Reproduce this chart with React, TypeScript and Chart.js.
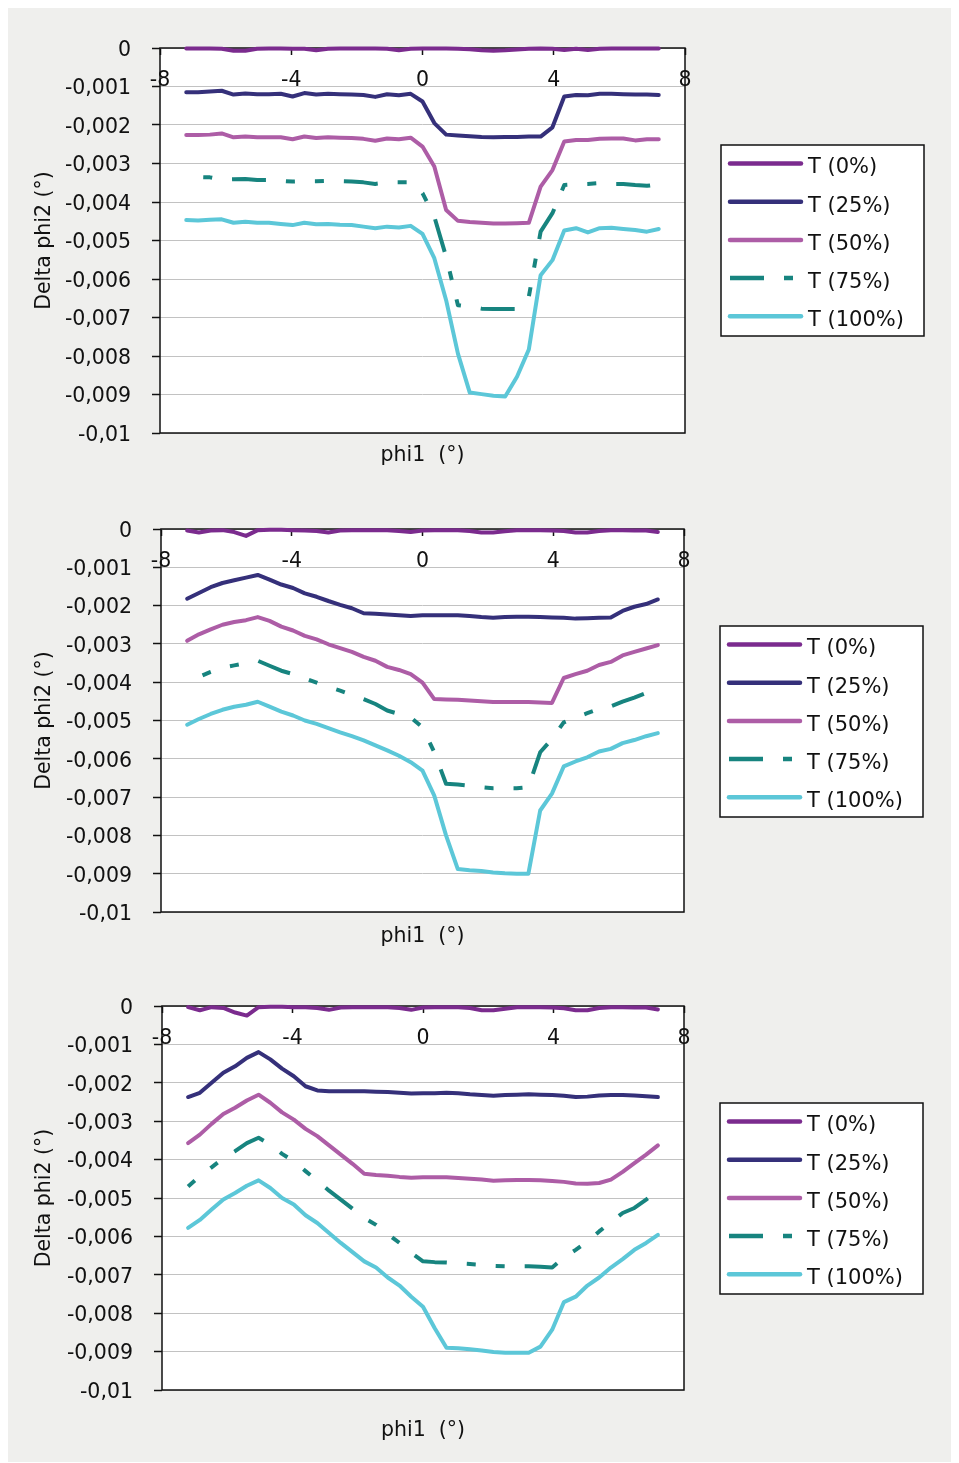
import React, { useEffect, useRef } from 'react';
import { Chart, registerables } from 'chart.js';

Chart.register(...registerables);

const FONT = '"DejaVu Sans", "Liberation Sans", sans-serif';

// ---------- data ----------
const PHI1 = [
  -7.2, -6.84, -6.48, -6.12, -5.76, -5.4, -5.04, -4.68, -4.32, -3.96,
  -3.6, -3.24, -2.88, -2.52, -2.16, -1.8, -1.44, -1.08, -0.72, -0.36,
  0, 0.36, 0.72, 1.08, 1.44, 1.8, 2.16, 2.52, 2.88, 3.24,
  3.6, 3.96, 4.32, 4.68, 5.04, 5.4, 5.76, 6.12, 6.48, 6.84, 7.2,
];

const X_TICKS = [-8, -4, 0, 4, 8];
const X_TICK_LABELS = ['-8', '-4', '0', '4', '8'];
const Y_TICKS = [0, -0.001, -0.002, -0.003, -0.004, -0.005, -0.006, -0.007, -0.008, -0.009, -0.01];
const Y_TICK_LABELS = ['0', '-0,001', '-0,002', '-0,003', '-0,004', '-0,005', '-0,006', '-0,007', '-0,008', '-0,009', '-0,01'];

const SERIES_LABELS = ['T (0%)', 'T (25%)', 'T (50%)', 'T (75%)', 'T (100%)'];
const X_TITLE = 'phi1  (°)';
const Y_TITLE = 'Delta phi2 (°)';

// chart 1
const C1_T0 = [-0.00001, -0.00001, -0.00001, -0.00002, -0.00007, -0.00007, -0.00002, -0.00001, -0.00001, -0.00002, -0.00002, -0.00006, -0.00002, -0.00001, -0.00001, -0.00001, -0.00001, -0.00002, -0.00006, -0.00002, -0.00001, -0.00001, -0.00001, -0.00002, -0.00003, -0.00006, -0.00007, -0.00006, -0.00004, -0.00002, -0.00001, -0.00002, -0.00005, -0.00002, -0.00005, -0.00002, -0.00001, -0.00001, -0.00001, -0.00001, -0.00001];
const C1_T25 = [-0.00115, -0.00115, -0.00113, -0.00111, -0.00121, -0.00118, -0.0012, -0.0012, -0.00119, -0.00126, -0.00117, -0.00121, -0.00119, -0.0012, -0.00121, -0.00122, -0.00127, -0.0012, -0.00123, -0.00119, -0.00139, -0.00195, -0.00225, -0.00227, -0.00229, -0.00231, -0.00232, -0.00231, -0.00231, -0.0023, -0.0023, -0.00206, -0.00126, -0.00122, -0.00123, -0.00119, -0.00119, -0.0012, -0.00121, -0.00121, -0.00122];
const C1_T50 = [-0.00226, -0.00226, -0.00225, -0.00222, -0.00232, -0.0023, -0.00232, -0.00232, -0.00232, -0.00237, -0.0023, -0.00234, -0.00232, -0.00233, -0.00234, -0.00236, -0.00241, -0.00235, -0.00237, -0.00233, -0.00256, -0.00308, -0.00421, -0.00449, -0.00452, -0.00454, -0.00456, -0.00456, -0.00455, -0.00454, -0.0036, -0.00317, -0.00243, -0.00239, -0.00239, -0.00236, -0.00235, -0.00235, -0.0024, -0.00237, -0.00237];
const C1_T75 = [-0.00335, -0.00335, -0.00336, -0.00342, -0.00341, -0.0034, -0.00343, -0.00343, -0.00345, -0.00347, -0.00346, -0.00346, -0.00345, -0.00346, -0.00347, -0.00349, -0.00353, -0.00349, -0.00349, -0.00349, -0.00377, -0.00438, -0.00542, -0.00668, -0.00672, -0.00677, -0.00678, -0.00678, -0.00678, -0.00646, -0.00477, -0.00429, -0.00356, -0.00354, -0.00353, -0.00351, -0.00353, -0.00353, -0.00356, -0.00358, -0.00354];
const C1_T100 = [-0.00447, -0.00448, -0.00446, -0.00445, -0.00454, -0.00451, -0.00454, -0.00454, -0.00457, -0.0046, -0.00454, -0.00458, -0.00457, -0.00459, -0.0046, -0.00464, -0.00468, -0.00464, -0.00466, -0.00462, -0.00483, -0.00546, -0.00655, -0.00794, -0.00895, -0.00899, -0.00903, -0.00905, -0.00854, -0.00783, -0.0059, -0.00551, -0.00474, -0.00468, -0.00479, -0.00468, -0.00467, -0.0047, -0.00473, -0.00477, -0.0047];

// chart 2
const C2_T0 = [-0.00004, -0.00009, -0.00004, -0.00003, -0.00008, -0.00018, -0.00003, -0.00002, -0.00002, -0.00003, -0.00004, -0.00005, -0.00009, -0.00004, -0.00003, -0.00003, -0.00003, -0.00003, -0.00005, -0.00008, -0.00004, -0.00003, -0.00003, -0.00003, -0.00005, -0.00009, -0.00009, -0.00006, -0.00003, -0.00003, -0.00003, -0.00004, -0.00005, -0.00009, -0.00009, -0.00005, -0.00003, -0.00003, -0.00004, -0.00004, -0.00008];
const C2_T25 = [-0.00182, -0.00167, -0.00152, -0.00141, -0.00134, -0.00127, -0.0012, -0.00132, -0.00145, -0.00154, -0.00168, -0.00177, -0.00188, -0.00198, -0.00207, -0.0022, -0.00221, -0.00223, -0.00225, -0.00227, -0.00225, -0.00225, -0.00225, -0.00225, -0.00227, -0.0023, -0.00232, -0.0023, -0.00229, -0.00229, -0.0023, -0.00231, -0.00232, -0.00234, -0.00233, -0.00232, -0.00231, -0.00214, -0.00203, -0.00196, -0.00184];
const C2_T50 = [-0.00292, -0.00275, -0.00262, -0.0025, -0.00243, -0.00238, -0.0023, -0.0024, -0.00255, -0.00265, -0.00279, -0.00288, -0.00301, -0.00311, -0.00321, -0.00334, -0.00344, -0.0036, -0.00368, -0.00379, -0.00401, -0.00444, -0.00445, -0.00446, -0.00448, -0.0045, -0.00452, -0.00452, -0.00452, -0.00452, -0.00453, -0.00454, -0.00389, -0.00379, -0.0037, -0.00355, -0.00347, -0.0033, -0.00321, -0.00312, -0.00303];
const C2_T75 = [-0.00401, -0.00386, -0.00373, -0.00362, -0.00356, -0.0035, -0.00344, -0.00357, -0.0037, -0.00379, -0.0039, -0.00401, -0.00412, -0.00422, -0.00433, -0.00444, -0.00457, -0.00474, -0.00483, -0.00492, -0.00518, -0.00583, -0.00665, -0.00667, -0.0067, -0.00674, -0.00677, -0.00677, -0.00677, -0.00674, -0.00583, -0.00548, -0.00505, -0.00492, -0.00481, -0.0047, -0.00463, -0.00451, -0.0044, -0.00428, -0.00418];
const C2_T100 = [-0.00511, -0.00496, -0.00483, -0.00472, -0.00464, -0.00459, -0.00451, -0.00464, -0.00477, -0.00487, -0.005, -0.00509, -0.0052, -0.00531, -0.00541, -0.00552, -0.00565, -0.00578, -0.00592, -0.00609, -0.00631, -0.00696, -0.008, -0.00888, -0.00891, -0.00893, -0.00897, -0.00899, -0.009, -0.009, -0.00735, -0.00691, -0.0062, -0.00607, -0.00596, -0.00581, -0.00574, -0.00559, -0.00551, -0.00541, -0.00533];

// chart 3
const C3_T0 = [-0.00003, -0.00011, -0.00003, -0.00005, -0.00017, -0.00025, -0.00003, -0.00002, -0.00002, -0.00003, -0.00003, -0.00005, -0.0001, -0.00004, -0.00003, -0.00003, -0.00003, -0.00003, -0.00005, -0.0001, -0.00004, -0.00003, -0.00003, -0.00003, -0.00005, -0.00011, -0.00011, -0.00007, -0.00003, -0.00003, -0.00003, -0.00004, -0.00006, -0.00011, -0.00011, -0.00005, -0.00003, -0.00003, -0.00004, -0.00004, -0.00009];
const C3_T25 = [-0.00237, -0.00226, -0.002, -0.00174, -0.00157, -0.00135, -0.0012, -0.00139, -0.00163, -0.00183, -0.00209, -0.0022, -0.00222, -0.00222, -0.00222, -0.00222, -0.00223, -0.00224, -0.00226, -0.00228, -0.00227, -0.00227, -0.00226, -0.00227, -0.0023, -0.00232, -0.00234, -0.00232, -0.00231, -0.0023, -0.00231, -0.00232, -0.00234, -0.00237, -0.00236, -0.00233, -0.00232, -0.00232, -0.00233, -0.00235, -0.00237];
const C3_T50 = [-0.00357, -0.00335, -0.00307, -0.00281, -0.00265, -0.00246, -0.00231, -0.00252, -0.00277, -0.00296, -0.0032, -0.00339, -0.00363, -0.00387, -0.00411, -0.00437, -0.0044, -0.00442, -0.00445, -0.00447, -0.00446, -0.00446, -0.00446, -0.00448, -0.0045, -0.00452, -0.00455, -0.00454, -0.00453, -0.00453, -0.00454, -0.00456, -0.00458, -0.00462, -0.00463, -0.00461, -0.00452, -0.00432, -0.00409, -0.00387, -0.00363];
const C3_T75 = [-0.0047, -0.00443, -0.0042, -0.00396, -0.00378, -0.00357, -0.00343, -0.00361, -0.00385, -0.00404, -0.0043, -0.00455, -0.00481, -0.00504, -0.00528, -0.00552, -0.0057, -0.00594, -0.00617, -0.00643, -0.00665, -0.00667, -0.00668, -0.0067, -0.00672, -0.00674, -0.00677, -0.00678, -0.00678, -0.00678, -0.00679, -0.00681, -0.00655, -0.00635, -0.00613, -0.00587, -0.00563, -0.00539, -0.00526, -0.00504, -0.00483];
const C3_T100 = [-0.00578, -0.00557, -0.0053, -0.00504, -0.00487, -0.00468, -0.00454, -0.00474, -0.005, -0.00517, -0.00545, -0.00565, -0.00591, -0.00617, -0.00641, -0.00665, -0.00681, -0.00707, -0.00728, -0.00757, -0.00783, -0.00839, -0.0089, -0.00891, -0.00894, -0.00897, -0.00901, -0.00903, -0.00903, -0.00903, -0.00887, -0.00843, -0.00771, -0.00757, -0.00728, -0.00707, -0.00681, -0.00659, -0.00635, -0.00617, -0.00596];

const CHART_SERIES = [
  [C1_T0, C1_T25, C1_T50, C1_T75, C1_T100],
  [C2_T0, C2_T25, C2_T50, C2_T75, C2_T100],
  [C3_T0, C3_T25, C3_T50, C3_T75, C3_T100],
];

// ---------- styles ----------
const COLORS = ['#7B2B8E', '#35307A', '#AD5DA6', '#17847F', '#5CC7D8'];
const DASH = [34, 20, 9, 20, 9, 20];
const PANEL_BG = '#efefed';
const GRID = '#c2c2c2';
const CANVAS_W = 943;

const LAYOUTS = [
  { height: 480, top: 41, left: 152, right: 677, bottom: 426, titlePadBottom: 19, legendTop: 138, dashOffset: 66 },
  { height: 478, top: 42, left: 153, right: 676, bottom: 425, titlePadBottom: 16, legendTop: 139, dashOffset: 37 },
  { height: 497, top: 41, left: 154, right: 676, bottom: 425, titlePadBottom: 19, legendTop: 138, dashOffset: 54 },
];

function makeFramePlugin() {
  return {
    id: 'frame',
    beforeDraw(chart: any) {
      const { ctx, chartArea: a } = chart;
      ctx.save();
      ctx.fillStyle = '#ffffff';
      ctx.fillRect(a.left, a.top, a.right - a.left, a.bottom - a.top);
      ctx.restore();
    },
    beforeDatasetsDraw(chart: any) {
      const { ctx, chartArea: a } = chart;
      ctx.save();
      ctx.strokeStyle = '#111111';
      ctx.lineWidth = 1.5;
      ctx.strokeRect(a.left, a.top, a.right - a.left, a.bottom - a.top);
      ctx.restore();
    },
  };
}

function makeLegendPlugin(legendTop: number) {
  return {
    id: 'boxLegend',
    afterDraw(chart: any) {
      const { ctx, chartArea } = chart;
      const bx = chartArea.right + 36;
      const by = legendTop;
      const bw = 203;
      const bh = 191;
      ctx.save();
      ctx.fillStyle = '#ffffff';
      ctx.fillRect(bx, by, bw, bh);
      ctx.strokeStyle = '#111111';
      ctx.lineWidth = 1.5;
      ctx.strokeRect(bx, by, bw, bh);
      chart.data.datasets.forEach((ds: any, i: number) => {
        const ly = by + 18.5 + i * 38.2;
        const dashed = ds.borderDash && ds.borderDash.length > 0;
        ctx.beginPath();
        ctx.setLineDash(dashed ? ds.borderDash : []);
        ctx.lineDashOffset = 0;
        ctx.lineCap = dashed ? 'butt' : 'round';
        ctx.strokeStyle = ds.borderColor;
        ctx.lineWidth = 4.5;
        ctx.moveTo(bx + 9, ly);
        ctx.lineTo(bx + (dashed ? 82 : 80), ly);
        ctx.stroke();
        ctx.setLineDash([]);
        ctx.fillStyle = '#111111';
        ctx.font = `21px ${FONT}`;
        ctx.textAlign = 'left';
        ctx.textBaseline = 'middle';
        ctx.fillText(ds.label, bx + 87, ly + 4.5);
      });
      ctx.restore();
    },
  };
}

function PhiChart({ index }: { index: number }) {
  const ref = useRef<HTMLCanvasElement>(null);
  const L = LAYOUTS[index];
  useEffect(() => {
    if (!ref.current) return;
    const series = CHART_SERIES[index];
    const datasets = series.map((vals, i) => ({
      label: SERIES_LABELS[i],
      data: PHI1.map((x, k) => ({ x, y: vals[k] })),
      borderColor: COLORS[i],
      backgroundColor: COLORS[i],
      borderWidth: 4,
      borderDash: i === 3 ? DASH : [],
      borderDashOffset: i === 3 ? L.dashOffset : 0,
      borderCapStyle: i === 3 ? 'butt' : 'round',
      borderJoinStyle: 'round',
      pointRadius: 0,
      pointHoverRadius: 0,
      tension: 0,
      fill: false,
      clip: 4,
    }));
    const chart = new Chart(ref.current, {
      type: 'line',
      data: { datasets } as any,
      options: {
        animation: false,
        responsive: false,
        devicePixelRatio: 1,
        events: [],
        layout: { padding: { top: L.top, right: CANVAS_W - L.right, bottom: 0, left: 0 } },
        plugins: { legend: { display: false }, tooltip: { enabled: false } },
        scales: {
          x: {
            type: 'linear',
            position: { y: 0 } as any,
            min: -8,
            max: 8,
            afterBuildTicks: (s: any) => { s.ticks = X_TICKS.map((v) => ({ value: v })); },
            ticks: {
              autoSkip: false,
              maxRotation: 0,
              padding: 13,
              color: '#111111',
              font: { family: FONT, size: 20.5 },
              callback: (v: any) => X_TICK_LABELS[X_TICKS.indexOf(Number(v))] ?? '',
            },
            grid: { drawOnChartArea: false, drawTicks: true, tickLength: 7, tickColor: '#111111', tickWidth: 1.5 },
            border: { display: false },
          },
          x2: {
            type: 'linear',
            position: 'bottom',
            min: -8,
            max: 8,
            ticks: { display: false },
            grid: { display: false, drawTicks: false },
            border: { display: false },
            title: {
              display: true,
              text: X_TITLE,
              color: '#111111',
              font: { family: FONT, size: 20.5 },
              padding: { top: 0, bottom: L.titlePadBottom },
            },
            afterFit: (s: any) => { s.height = L.height - L.bottom; },
          },
          y: {
            type: 'linear',
            position: 'left',
            min: -0.01,
            max: 0,
            afterBuildTicks: (s: any) => { s.ticks = Y_TICKS.map((v) => ({ value: v })); },
            ticks: {
              padding: 21,
              labelOffset: 2.5,
              color: '#111111',
              font: { family: FONT, size: 20.5 },
              callback: (v: any) => {
                let best = 0;
                Y_TICKS.forEach((t, k) => { if (Math.abs(t - v) < Math.abs(Y_TICKS[best] - v)) best = k; });
                return Y_TICK_LABELS[best];
              },
            },
            grid: { color: GRID, lineWidth: 1, drawTicks: true, tickLength: 8, tickColor: '#111111', tickWidth: 1.5 },
            border: { display: false },
            title: {
              display: true,
              text: Y_TITLE,
              color: '#111111',
              font: { family: FONT, size: 20.5 },
              padding: { top: 24, bottom: 0 },
            },
            afterFit: (s: any) => { s.width = L.left; },
          },
        },
      } as any,
      plugins: [makeFramePlugin(), makeLegendPlugin(L.legendTop)],
    });
    return () => chart.destroy();
  }, [index]);
  return (
    <canvas
      ref={ref}
      width={CANVAS_W}
      height={L.height}
      style={{ display: 'block', width: CANVAS_W, height: L.height }}
    />
  );
}

export default function App() {
  return (
    <div style={{ marginTop: -1, width: CANVAS_W, height: 1455, background: PANEL_BG, overflow: 'hidden' }}>
      <PhiChart index={0} />
      <PhiChart index={1} />
      <PhiChart index={2} />
    </div>
  );
}
